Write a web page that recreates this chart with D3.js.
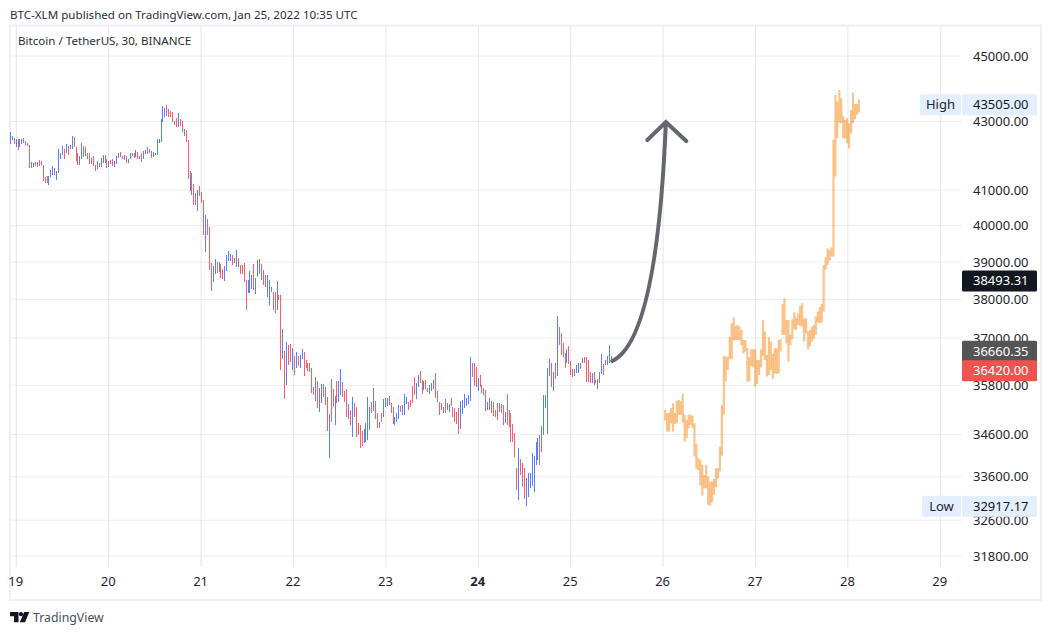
<!DOCTYPE html>
<html><head><meta charset="utf-8">
<script src="https://cdn.jsdelivr.net/npm/d3@7/dist/d3.min.js"></script>
<style>
html,body{margin:0;padding:0;background:#fff;}
svg{display:block;}
text{font-family:"Noto Sans",sans-serif;}
</style></head><body><svg id="c" width="1052" height="635"></svg>
<script>
const barHighs=[
42690,42570,42520,42480,42480,42480,42480,42510,42420,42370,
42300,41810,41770,41810,41810,41860,41845,41720,41365,41405,
41405,41580,41690,41625,41560,42180,42060,42275,42180,42335,
42275,42300,42570,42530,42240,42060,41980,42370,42275,42240,
42080,42060,41915,41980,41720,41845,41790,41915,42010,42010,
41885,41845,41865,41885,41845,41980,42060,42090,41990,42000,
41980,41895,42060,42060,42060,42160,42090,41990,42060,42120,
42160,42240,42180,42140,42110,42080,42470,42470,43075,43465,
43395,43505,43365,43325,43295,43025,43095,43245,43065,43025,
42765,42745,42450,41550,41500,41175,40930,41000,41115,40955,
40720,40300,40175,39955,38985,38895,39085,39010,39010,38950,
38805,38895,39190,39310,39220,39190,39100,39330,39100,38920,
38920,38965,38520,38520,38760,38655,38950,38580,39055,39085,
38950,38790,38655,38655,38520,38340,38205,38205,38490,38120,
38120,37230,36670,36885,36820,36845,36735,36540,36650,36540,
36565,36705,36650,36435,36370,36350,36225,35770,36000,35910,
35730,35835,35835,35750,35520,35095,35950,35700,35535,35910,
35910,36210,35875,35670,35700,35340,35195,35505,35355,35275,
34870,34830,34695,34725,34870,35505,35275,35400,35730,35415,
35115,34910,35115,35470,35495,35480,35535,35355,35275,35015,
35115,35315,35290,35315,35590,35520,35400,35440,35785,36000,
35850,36060,36160,35935,35920,35935,35730,35810,35870,35935,
36100,35650,35400,35375,35275,35455,35355,35340,35480,35275,
35235,35155,35235,35415,35440,35590,35480,35565,36520,36370,
36370,36270,35975,36060,35810,35730,35690,35400,35480,35425,
35400,35195,35375,35355,35340,35315,35155,35590,35195,35115,
34855,34630,33800,34270,34010,33915,33800,33565,33680,33695,
34150,34090,34415,34510,34590,34805,35565,35565,36240,36455,
36350,36145,36370,37565,37270,37115,36875,36605,36705,36790,
36420,36210,36210,36310,36350,36370,36480,36520,36520,36435,
36145,36100,36145,35935,35950,36145,36590,36325,36435,36540,
36820,36540];
const barLows=[
42340,42450,42340,42240,42160,42230,42340,42370,42300,42260,
41620,41620,41655,41690,41670,41690,41710,41270,41195,41215,
41150,41365,41435,41435,41290,41500,41885,42010,41895,42060,
42010,42180,42180,42240,41845,41720,41720,41885,41960,41980,
41885,41750,41750,41690,41560,41615,41670,41655,41790,41770,
41635,41655,41750,41690,41670,41750,41925,41945,41885,41865,
41790,41790,41885,41980,41925,41960,41895,41885,41815,41895,
42040,42040,42060,41925,41960,42000,42000,42355,42405,42995,
43125,43165,43145,43145,42995,42895,42825,42825,42865,42700,
42570,42405,41330,40980,40860,40580,40580,40420,40830,40625,
39740,39275,39740,38790,38225,38475,38680,38715,38745,38565,
38540,38500,38770,39040,39040,38920,38965,38875,38875,38680,
38680,38475,37725,38180,38165,38270,38250,38145,38605,38680,
38520,38385,38320,38075,37855,38205,37725,37640,37725,37990,
36190,36450,35455,35810,36310,36395,36185,36060,36225,36295,
36245,36455,36035,36225,36170,36145,35605,35565,35415,35240,
35135,35375,35505,35315,34690,34050,34910,35275,34830,35375,
35400,35565,35520,35400,35015,34975,34830,34550,35030,34550,
34590,34270,34325,34390,34430,34470,34710,35115,35170,34970,
34765,34765,34910,35030,35275,35290,35315,35115,34855,34830,
34910,34970,35155,35075,35075,35340,35195,35275,35355,35565,
35465,35770,35870,35590,35690,35700,35640,35590,35650,35700,
35480,35400,35075,35195,35115,35115,35195,35155,35290,35030,
34910,34855,34610,34740,35095,35235,35290,35340,35425,36020,
35785,35770,35650,35770,35605,35550,35180,35195,35195,35115,
35050,35030,34950,35155,35130,34830,34870,34830,34790,34430,
34430,34070,33280,33065,33640,33370,33080,32917,33140,33330,
33390,33250,33875,33995,33875,34190,34590,35235,34610,36035,
35770,35670,35950,36035,36820,36565,36505,36225,36350,36335,
36060,36000,36035,36120,36100,36200,36350,36350,35895,35880,
35850,35850,35810,35850,35715,35850,36085,36060,36310,36310,
36370,36410];
const barDirections=[
"uududuuddd","ddududdddd","uuuduuuudu","duuddduudd","ddudduduud",
"dudduuuddu","duuddududu","ududuuuuuu","uddddddudd","uddudddudd",
"duddduudud","duuuuddudd","ddduuuduuu","ddduudddud","dududdudud",
"uuddddddud","uuddduddud","uudddududd","ddduuuudud","duduuudddu",
"uuduuudddd","uuddudduuu","dddduduudd","ddduuuuuud","ddudddduud",
"dddudduddd","ddduddduuu","uuuuduuuuu","dududdddud","dduuududdd",
"dudduuuddu","ud"].join("");
const patternHighs=[
35195,35115,35130,35235,35355,35115,35420,35440,35400,35590,
35075,34950,35075,35075,35050,34870,34375,34035,33995,33880,
33640,33880,33600,33485,33485,33550,33800,33800,34310,35315,
36540,36520,36520,37030,37375,37530,37307,37335,37290,37205,
36946,36946,36735,36505,36710,36710,36710,36437,36437,36710,
37462,37165,36565,37015,36905,36590,36735,36735,36946,36965,
37885,38030,37462,37462,37080,37480,37660,37530,37635,37830,
37900,37505,37505,37165,37205,37290,37335,37550,37680,37795,
37885,38920,39130,39375,39330,39400,42460,43800,43600,43950,
43700,43165,43045,43095,42945,43345,43870,43525,43525,43670];
const patternLows=[
34935,34670,34670,34870,34670,34855,34870,35075,35075,34885,
34430,34510,34750,34830,34750,34075,33785,33745,33395,33165,
33330,33330,32950,32930,33010,33180,33355,33550,33725,34095,
35075,35895,36185,36455,36455,36930,36946,36946,36946,36810,
36605,36650,35895,35895,36285,36250,35770,35835,36060,36250,
36540,36437,36020,36060,36185,35960,36100,36085,36100,36650,
37080,37080,36860,36395,36810,36965,37220,37205,37335,37307,
37290,36905,37120,36710,36785,36905,36965,37080,37395,37375,
37395,37680,38790,38923,39040,39150,39150,41385,42500,42965,
42945,42500,42500,42350,42205,42650,42945,43065,43195,43265];
const priceTicks=[45000,43000,41000,40000,39000,38000,37000,35800,34600,33600,32600,31800];
const dayTicks=[19,20,21,22,23,24,25,26,27,28,29];
const boldDay=24;
const barSpan=[18.935,25.441];
const patternSpan=[26.022,28.119];
const arrowStart=[25.45,36412], arrowControl=[25.935,36946], arrowTip=[26.03,42984];
const arrowLeft=[25.83,42450], arrowRight=[26.25,42420];
const badgeValues=[43505,38493.31,36660.35,36420,32917.17];
const badgeFills=["#e3effd","#131722","#555555","#ef5350","#e3effd"];
const badgeInk=["#131722","#ffffff","#ffffff","#ffffff","#131722"];
const badgeShift=[0,0,0,10,0];
const badgeNames=["High",null,null,null,"Low"];
const badgeNameLeft=[920,null,null,null,922];
const headerText="BTC-XLM published on TradingView.com, Jan 25, 2022 10:35 UTC";
const legendText="Bitcoin / TetherUS, 30, BINANCE";
const brandText="TradingView";

const svg=d3.select("#c");
const x=d3.scaleLinear().domain([19,29]).range([16.3,940.3]);
const y=d3.scaleLog().domain([45000,31800]).range([56,556]);

svg.append("rect").attr("x",10).attr("y",25.5).attr("width",1031).attr("height",574.5)
  .attr("fill","#fff").attr("stroke","#eef0f6").attr("stroke-width",2);

const grid=svg.append("g");
grid.selectAll("line.h").data(priceTicks).join("line").attr("class","h")
  .attr("x1",11).attr("x2",961.5).attr("y1",d=>y(d)).attr("y2",d=>y(d))
  .attr("stroke","#eeeef2").attr("stroke-width",1);
grid.selectAll("line.v").data(dayTicks).join("line").attr("class","v")
  .attr("x1",d=>x(d)).attr("x2",d=>x(d)).attr("y1",26).attr("y2",567)
  .attr("stroke","#e6e6ea").attr("stroke-width",1);

const priceAxis=d3.axisRight(y).tickValues(priceTicks).tickSize(0).tickPadding(0)
  .tickFormat(d3.format(".2f"));
const gy=svg.append("g").attr("transform","translate(973,0)").call(priceAxis);
gy.select(".domain").remove();
gy.selectAll("text").attr("font-size",13).attr("fill","#1f2430").style("font-family",'"Noto Sans",sans-serif');

const timeAxis=d3.axisBottom(x).tickValues(dayTicks).tickSize(0).tickPadding(10).tickFormat(d=>d);
const gx=svg.append("g").attr("transform","translate(-1,567)").call(timeAxis);
gx.select(".domain").remove();
gx.selectAll("text").attr("font-size",13).attr("fill","#1f2430")
  .attr("font-weight",d=>d===boldDay?"700":"400").style("font-family",'"Noto Sans",sans-serif');

const barT=d3.scaleLinear().domain([0,barHighs.length-1]).range(barSpan);
svg.append("g").attr("shape-rendering","crispEdges").selectAll("line").data(barHighs).join("line")
  .attr("x1",(d,i)=>x(barT(i))).attr("x2",(d,i)=>x(barT(i)))
  .attr("y1",d=>y(d)).attr("y2",(d,i)=>y(barLows[i]))
  .attr("stroke",(d,i)=>barDirections[i]==="u"?"#2962ff":"#f23645")
  .attr("stroke-width",1).attr("stroke-opacity",0.8);

const patT=d3.scaleLinear().domain([0,patternHighs.length-1]).range(patternSpan);
svg.append("g").selectAll("line").data(patternHighs).join("line")
  .attr("x1",(d,i)=>x(patT(i))).attr("x2",(d,i)=>x(patT(i)))
  .attr("y1",d=>y(d)).attr("y2",(d,i)=>y(patternLows[i]))
  .attr("stroke","#f57c00").attr("stroke-width",2.2).attr("stroke-opacity",0.45);

const pt=p=>[x(p[0]),y(p[1])];
const ap=d3.path();
ap.moveTo(...pt(arrowStart));
ap.quadraticCurveTo(...pt(arrowControl),...pt(arrowTip));
ap.moveTo(...pt(arrowLeft));ap.lineTo(...pt(arrowTip));ap.lineTo(...pt(arrowRight));
svg.append("path").attr("d",ap.toString()).attr("fill","none").attr("stroke","#64676f")
  .attr("stroke-width",4).attr("stroke-linecap","round");

const bh=21;
const badges=svg.append("g").selectAll("g").data(badgeValues).join("g")
  .attr("transform",(d,i)=>`translate(0,${y(d)+badgeShift[i]})`);
badges.each(function(d,i){
  if(!badgeNames[i]) return;
  const g=d3.select(this);
  g.append("rect").attr("x",badgeNameLeft[i]).attr("y",-bh/2).attr("width",961-badgeNameLeft[i]).attr("height",bh)
    .attr("rx",1.5).attr("fill","#e3effd");
  g.append("text").attr("x",(badgeNameLeft[i]+961)/2).attr("dy","0.35em").attr("text-anchor","middle")
    .attr("font-size",13).attr("fill","#1f2430").text(badgeNames[i]);
});
badges.append("rect").attr("x",962).attr("y",-bh/2).attr("width",75).attr("height",bh).attr("rx",1.5)
  .attr("fill",(d,i)=>badgeFills[i]);
badges.append("text").attr("x",973).attr("dy","0.35em").attr("font-size",13)
  .attr("fill",(d,i)=>badgeInk[i]).text(d=>d3.format(".2f")(d));

svg.append("text").attr("x",10).attr("y",19).attr("font-size",11.6).attr("fill","#2a2e39").text(headerText);
svg.append("text").attr("x",18).attr("y",45).attr("font-size",11.6).attr("fill","#2a2e39").text(legendText);
const logo=svg.append("g").attr("fill","#131722");
logo.append("path").attr("d","M10 612H18.5V622.3H14V616.3H10Z");
logo.append("circle").attr("cx",21).attr("cy",614.2).attr("r",2.1);
logo.append("path").attr("d","M24.2 612H29.3L25 622.3H19.8Z");
svg.append("text").attr("x",33).attr("y",622).attr("font-size",12.3).attr("fill","#4a4e59").text(brandText);
</script></body></html>
